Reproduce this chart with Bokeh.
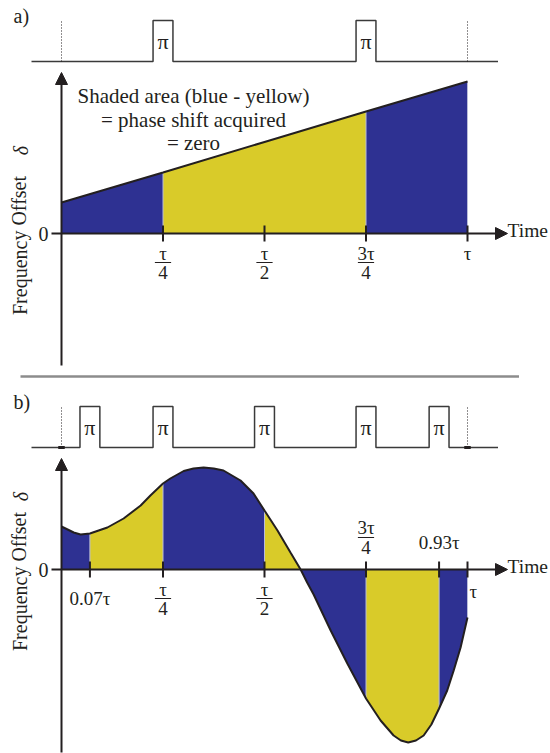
from bokeh.plotting import figure
from bokeh.models import Range1d, Arrow, NormalHead
from bokeh.core.properties import value
from bokeh.embed import file_html
from bokeh.resources import INLINE

# ---------------- data (time in units of tau, offset in arbitrary units) ----------------
# panel a: linear drift of the frequency offset
A_T = [0.0, 0.25, 0.5, 0.75, 1.0]
A_V = [31, 61, 91.5, 122, 152]
A_PULSES = [0.25, 0.75]
A_BOUNDS = [0.0, 0.25, 0.75, 1.0]
A_TICKS = [0.25, 0.5, 0.75, 1.0]
A_TICK_NUM = ["τ", "τ", "3τ", "τ"]
A_TICK_DEN = ["4", "2", "4", ""]

# panel b: oscillating frequency offset
B_T = [0.0, 0.015, 0.03, 0.047, 0.07, 0.113, 0.153, 0.195, 0.219, 0.25, 0.268, 0.301,
       0.325, 0.35, 0.375, 0.399, 0.441, 0.473, 0.5, 0.532, 0.564, 0.589, 0.605, 0.621,
       0.663, 0.704, 0.75, 0.786, 0.818, 0.836, 0.854, 0.873, 0.892, 0.911, 0.93, 0.95,
       0.966, 0.983, 1.0]
B_V = [43, 40, 37, 35, 36, 42, 51, 64, 74, 86, 91, 98.5,
       101, 102, 101, 99, 89, 76, 59, 39, 17, 0, -13, -25,
       -61, -94, -129, -151, -166, -171, -173, -171, -166, -155, -139, -121,
       -101, -78, -48]
B_PULSES = [0.07, 0.25, 0.5, 0.75, 0.93]
B_BOUNDS = [0.0, 0.07, 0.25, 0.5, 0.75, 0.93, 1.0]
B_TICKS = [0.07, 0.25, 0.5, 0.75, 0.93, 1.0]
B_BELOW_FRAC_T = [0.25, 0.5]
B_BELOW_FRAC_DEN = ["4", "2"]
B_ABOVE_FRAC_T = [0.75]
B_ABOVE_FRAC_NUM = ["3τ"]
B_ABOVE_FRAC_DEN = ["4"]

PULSE_WIDTH = 0.049
PULSE_LABEL = "π"
ANNOTATION = ["Shaded area (blue - yellow)", "= phase shift acquired", "= zero"]

# ---------------- styling / layout ----------------
DARK = "#231f20"
PULSE_COL = "#3a3a3a"
BLUE = "#2e3192"
YELLOW = "#d9cb29"
EDGE = "#b9bcd8"
FONT = value("Liberation Serif")
TICK_FS = "19px"

W, H = 550, 753
OX, OY = 0, 0
T0_PX, TAU_PX = 61, 406
ZERO_A, ZERO_B = 233, 569
PA_BASE, PB_BASE, P_H = 61, 447, 41


def t_of_px(x):
    return (x - T0_PX) / TAU_PX


p = figure(width=W, height=H, output_backend="svg", toolbar_location=None,
           x_range=Range1d(t_of_px(OX), t_of_px(OX + W)),
           y_range=Range1d(ZERO_A - (OY + H), ZERO_A - OY),
           x_axis_type=None, y_axis_type=None, min_border=0,
           outline_line_color=None, background_fill_color="white",
           border_fill_color="white")
p.grid.visible = False
p.extra_y_ranges = {
    "b": Range1d(ZERO_B - (OY + H), ZERO_B - OY),
    "pa": Range1d((PA_BASE - (OY + H)) / P_H, (PA_BASE - OY) / P_H),
    "pb": Range1d((PB_BASE - (OY + H)) / P_H, (PB_BASE - OY) / P_H),
    "page": Range1d(OY + H, OY),
}
p.extra_x_ranges = {"page": Range1d(OX, OX + W)}


def shade(T, V, bounds, yr):
    pieces = []
    for k in range(len(bounds) - 1):
        lo, hi = bounds[k], bounds[k + 1]
        tog = 1 if k % 2 == 0 else -1
        idx = [i for i, t in enumerate(T) if lo - 1e-9 <= t <= hi + 1e-9]
        cur = [idx[0]]
        for i in idx[1:]:
            cur.append(i)
            if V[i] == 0 and i != idx[-1]:
                pieces.append((cur, tog))
                cur = [i]
        pieces.append((cur, tog))
    for ids, tog in pieces:
        xs = [T[i] for i in ids]
        ys = [V[i] for i in ids]
        mid = sum(ys) / len(ys)
        col = BLUE if mid * tog > 0 else YELLOW
        p.varea(x=xs, y1=[0] * len(xs), y2=ys, fill_color=col, y_range_name=yr)
    # light edges at the pulse boundaries
    ex, ey = [], []
    for b in bounds[1:]:
        i = min(range(len(T)), key=lambda j: abs(T[j] - b))
        ex.append(b)
        ey.append(V[i])
    p.segment(x0=ex, y0=[0] * len(ex), x1=ex, y1=ey, line_color=EDGE, line_width=1,
              y_range_name=yr)


def pulses(centers, yr, marks=False):
    xs, ys = [t_of_px(31)], [0]
    for c in centers:
        xs += [c - PULSE_WIDTH / 2, c - PULSE_WIDTH / 2, c + PULSE_WIDTH / 2, c + PULSE_WIDTH / 2]
        ys += [0, 1, 1, 0]
    xs.append(t_of_px(497.5))
    ys.append(0)
    p.line(xs, ys, line_color=PULSE_COL, line_width=1.5, y_range_name=yr)
    p.segment(x0=[0, 1], y0=[0, 0], x1=[0, 1], y1=[1, 1], line_color=DARK,
              line_width=1, line_dash="1 2", y_range_name=yr)
    if marks:
        p.segment(x0=[-0.008, 1 - 0.008], y0=[0, 0], x1=[0.008, 1 + 0.008], y1=[0, 0],
                  line_color=DARK, line_width=3, y_range_name=yr)
    p.text(x=centers, y=[0.5] * len(centers), text=[PULSE_LABEL] * len(centers),
           text_font=FONT, text_font_size="22px", text_color=DARK,
           text_align="center", text_baseline="middle", y_range_name=yr)


def axes(yr, ybot, ytop):
    p.add_layout(Arrow(end=NormalHead(size=12, fill_color=DARK, line_color=DARK, line_width=1),
                       x_start=t_of_px(51), y_start=0, x_end=t_of_px(507), y_end=0,
                       line_color=DARK, line_width=2, y_range_name=yr))
    p.add_layout(Arrow(end=NormalHead(size=12, fill_color=DARK, line_color=DARK, line_width=1),
                       x_start=0, y_start=ybot, x_end=0, y_end=ytop,
                       line_color=DARK, line_width=2, y_range_name=yr))
    p.text(x=[0], y=[0], text=["0"], x_offset=-13, text_font=FONT, text_font_size="20px",
           text_color=DARK, text_align="right", text_baseline="middle", y_range_name=yr)
    p.text(x=[t_of_px(507)], y=[0], text=["Time"], y_offset=-3, text_font=FONT,
           text_font_size="19.5px", text_color=DARK, text_align="left",
           text_baseline="alphabetic", y_range_name=yr)


def ticks(tt, yr):
    p.segment(x0=tt, y0=[-8] * len(tt), x1=tt, y1=[8] * len(tt), line_color=DARK,
              line_width=2, y_range_name=yr)


def frac(tt, nums, dens, y_num, y_bar, y_den, yr):
    p.text(x=tt, y=[y_num] * len(tt), text=nums, text_font=FONT, text_font_size=TICK_FS,
           text_color=DARK, text_align="center", text_baseline="middle", y_range_name=yr)
    bt = [t for t, d in zip(tt, dens) if d]
    bd = [d for d in dens if d]
    p.segment(x0=[t - 0.02 for t in bt], y0=[y_bar] * len(bt), x1=[t + 0.02 for t in bt],
              y1=[y_bar] * len(bt), line_color=DARK, line_width=1, y_range_name=yr)
    p.text(x=bt, y=[y_den] * len(bt), text=bd, text_font=FONT, text_font_size=TICK_FS,
           text_color=DARK, text_align="center", text_baseline="middle", y_range_name=yr)


def ylabel(yr, y_main, y_delta):
    p.text(x=[t_of_px(19)], y=[y_main], text=["Frequency Offset"], angle=1.5708,
           text_font=FONT, text_font_size="20px", text_color=DARK,
           text_align="center", text_baseline="middle", y_range_name=yr)
    p.text(x=[t_of_px(20)], y=[y_delta], text=["δ"], angle=1.5708,
           text_font=FONT, text_font_size="20px", text_font_style="italic",
           text_color=DARK, text_align="center", text_baseline="middle", y_range_name=yr)


# ---------------- panel a ----------------
shade(A_T, A_V, A_BOUNDS, "default")
p.line(A_T, A_V, line_color=DARK, line_width=2)
axes("default", -132, 161)
ticks(A_TICKS, "default")
frac(A_TICKS, A_TICK_NUM, A_TICK_DEN, -20, -29, -39, "default")
pulses(A_PULSES, "pa")
ylabel("default", -12, 83)
p.text(x=[t_of_px(193)] * 3, y=[138, 114, 91], text=ANNOTATION, text_font=FONT,
       text_font_size="21px", text_color=DARK, text_align="center",
       text_baseline="alphabetic")

# ---------------- panel b ----------------
shade(B_T, B_V, B_BOUNDS, "b")
p.line(B_T, B_V, line_color=DARK, line_width=2, y_range_name="b")
axes("b", -183, 111)
ticks(B_TICKS, "b")
frac(B_BELOW_FRAC_T, ["τ"] * len(B_BELOW_FRAC_T), B_BELOW_FRAC_DEN, -20, -29, -39, "b")
frac(B_ABOVE_FRAC_T, B_ABOVE_FRAC_NUM, B_ABOVE_FRAC_DEN, 42, 32, 22, "b")
p.text(x=[B_TICKS[0]], y=[-29], text=["0.07τ"], text_font=FONT, text_font_size=TICK_FS,
       text_color=DARK, text_align="center", text_baseline="middle", y_range_name="b")
p.text(x=[B_TICKS[4]], y=[27], text=["0.93τ"], text_font=FONT, text_font_size=TICK_FS,
       text_color=DARK, text_align="center", text_baseline="middle", y_range_name="b")
p.text(x=[B_TICKS[5]], y=[-22], text=["τ"], x_offset=2, text_font=FONT,
       text_font_size=TICK_FS, text_color=DARK, text_align="left",
       text_baseline="middle", y_range_name="b")
pulses(B_PULSES, "pb", marks=True)
ylabel("b", -12, 73)

# ---------------- page decorations ----------------
p.segment(x0=[20], y0=[376], x1=[518.5], y1=[376], line_color="#8c8c8c", line_width=2.5,
          x_range_name="page", y_range_name="page")
p.text(x=[13, 13], y=[15, 401], text=["a)", "b)"], text_font=FONT, text_font_size="20px",
       text_color=DARK, text_align="left", text_baseline="middle",
       x_range_name="page", y_range_name="page")

open("out.html", "w").write(file_html(p, INLINE))
